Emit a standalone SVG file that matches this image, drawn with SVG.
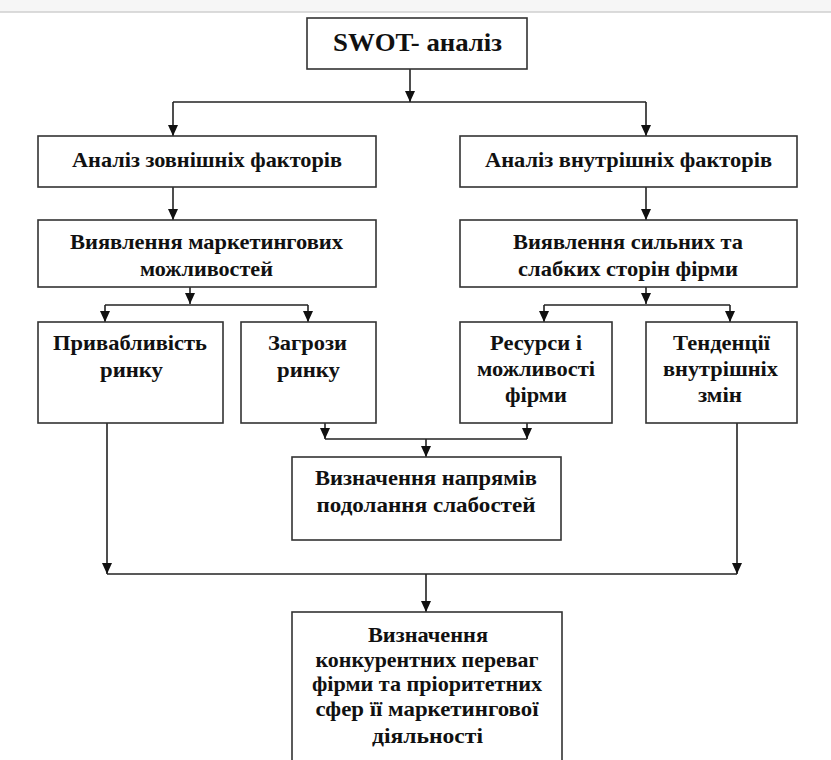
<svg xmlns="http://www.w3.org/2000/svg" width="831" height="760" viewBox="0 0 831 760">
<style>
.box{fill:#fff;stroke:#333;stroke-width:1.6}
.t{font-family:"Liberation Serif","Times New Roman",serif;font-weight:bold;font-size:21px;fill:#111;text-anchor:middle}
.c{fill:none;stroke:#222;stroke-width:1.6}
</style>
<defs>
<marker id="ah" markerUnits="userSpaceOnUse" markerWidth="11" markerHeight="11" refX="11" refY="5.5" orient="auto">
<path d="M0,0.5 L11,5.5 L0,10.5 z" fill="#111"/>
</marker>
</defs>
<rect x="0" y="0" width="831" height="12" fill="#f6f6f6"/>
<line x1="0" y1="12" x2="831" y2="12" stroke="#cfcfcf" stroke-width="1.5"/>

<g id="connectors">
<path class="c" d="M410,69 V102" marker-end="url(#ah)"/>
<path class="c" d="M173,102 H646"/>
<path class="c" d="M173,102 V136" marker-end="url(#ah)"/>
<path class="c" d="M646,102 V136" marker-end="url(#ah)"/>
<path class="c" d="M173,187 V220" marker-end="url(#ah)"/>
<path class="c" d="M646,187 V220" marker-end="url(#ah)"/>
<path class="c" d="M190,287 V304" marker-end="url(#ah)"/>
<path class="c" d="M105,305 H308"/>
<path class="c" d="M105,305 V322" marker-end="url(#ah)"/>
<path class="c" d="M308,305 V322" marker-end="url(#ah)"/>
<path class="c" d="M646,287 V304" marker-end="url(#ah)"/>
<path class="c" d="M544,305 H730"/>
<path class="c" d="M544,305 V322" marker-end="url(#ah)"/>
<path class="c" d="M730,305 V322" marker-end="url(#ah)"/>
<path class="c" d="M325,423 V439" marker-end="url(#ah)"/>
<path class="c" d="M527,423 V439" marker-end="url(#ah)"/>
<path class="c" d="M325,439 H527"/>
<path class="c" d="M426,439 V457" marker-end="url(#ah)"/>
<path class="c" d="M107,423 V574" marker-end="url(#ah)"/>
<path class="c" d="M737,423 V574" marker-end="url(#ah)"/>
<path class="c" d="M107,574 H737"/>
<path class="c" d="M426,574 V612" marker-end="url(#ah)"/>
</g>

<g id="swot">
<rect class="box" x="307" y="18" width="220" height="51"/>
<text class="t" x="417.5" y="51" style="font-size:26px" textLength="169" lengthAdjust="spacingAndGlyphs">SWOT- аналіз</text>
</g>
<g id="external">
<rect class="box" x="38" y="136" width="338" height="51"/>
<text class="t" x="207" y="167" textLength="270" lengthAdjust="spacingAndGlyphs">Аналіз зовнішніх факторів</text>
</g>
<g id="internal">
<rect class="box" x="460" y="136" width="337" height="51"/>
<text class="t" x="628.5" y="167" textLength="287" lengthAdjust="spacingAndGlyphs">Аналіз внутрішніх факторів</text>
</g>
<g id="opportunities">
<rect class="box" x="38" y="220" width="338" height="67"/>
<text class="t" x="206.5" y="249" textLength="273" lengthAdjust="spacingAndGlyphs">Виявлення маркетингових</text>
<text class="t" x="206.5" y="276" textLength="133" lengthAdjust="spacingAndGlyphs">можливостей</text>
</g>
<g id="strengths">
<rect class="box" x="460" y="220" width="337" height="67"/>
<text class="t" x="628" y="249" textLength="230" lengthAdjust="spacingAndGlyphs">Виявлення сильних та</text>
<text class="t" x="628" y="276" textLength="220" lengthAdjust="spacingAndGlyphs">слабких сторін фірми</text>
</g>
<g id="attractiveness">
<rect class="box" x="38" y="322" width="185" height="101"/>
<text class="t" x="130" y="350" textLength="154" lengthAdjust="spacingAndGlyphs">Привабливість</text>
<text class="t" x="131.5" y="377" textLength="63" lengthAdjust="spacingAndGlyphs">ринку</text>
</g>
<g id="threats">
<rect class="box" x="241" y="322" width="135" height="101"/>
<text class="t" x="307.5" y="350" textLength="79" lengthAdjust="spacingAndGlyphs">Загрози</text>
<text class="t" x="308.5" y="377" textLength="63" lengthAdjust="spacingAndGlyphs">ринку</text>
</g>
<g id="resources">
<rect class="box" x="460" y="322" width="152" height="101"/>
<text class="t" x="536" y="350" textLength="92" lengthAdjust="spacingAndGlyphs">Ресурси і</text>
<text class="t" x="536" y="376" textLength="118" lengthAdjust="spacingAndGlyphs">можливості</text>
<text class="t" x="536" y="402" textLength="62" lengthAdjust="spacingAndGlyphs">фірми</text>
</g>
<g id="trends">
<rect class="box" x="646" y="322" width="151" height="101"/>
<text class="t" x="721.5" y="350" textLength="97" lengthAdjust="spacingAndGlyphs">Тенденції</text>
<text class="t" x="720.5" y="376" textLength="115" lengthAdjust="spacingAndGlyphs">внутрішніх</text>
<text class="t" x="720" y="402" textLength="44" lengthAdjust="spacingAndGlyphs">змін</text>
</g>
<g id="weaknesses">
<rect class="box" x="292" y="457" width="269" height="83"/>
<text class="t" x="426" y="485" textLength="222" lengthAdjust="spacingAndGlyphs">Визначення напрямів</text>
<text class="t" x="426" y="512" textLength="219" lengthAdjust="spacingAndGlyphs">подолання слабостей</text>
</g>
<g id="advantages">
<rect class="box" x="292" y="612" width="270" height="160"/>
<text class="t" x="428" y="642" textLength="120" lengthAdjust="spacingAndGlyphs">Визначення</text>
<text class="t" x="427" y="667" textLength="223" lengthAdjust="spacingAndGlyphs">конкурентних переваг</text>
<text class="t" x="427" y="691" textLength="230" lengthAdjust="spacingAndGlyphs">фірми та пріоритетних</text>
<text class="t" x="427" y="716" textLength="223" lengthAdjust="spacingAndGlyphs">сфер її маркетингової</text>
<text class="t" x="427.5" y="743" textLength="111" lengthAdjust="spacingAndGlyphs">діяльності</text>
</g>
</svg>
